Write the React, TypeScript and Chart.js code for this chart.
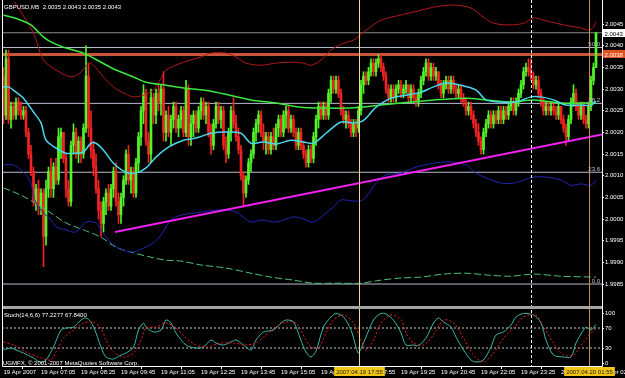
import React, { useEffect, useRef } from 'react';
import { Chart, registerables } from 'chart.js';

Chart.register(...registerables);

const W = 625;
const H = 378;
const BASE = 2.0;
const PIP = 0.0001;
const X_MIN = -0.6;
const X_MAX = 239.4;
const PRICE_MIN = 1.99797;
const PRICE_MAX = 2.00501;

// Candles, values in pips above 2.0000
const OPEN = [
  33, 24, 37, 23, 26, 24, 27, 25, 24, 25,
  20, 15, 11, 4, 7, 3, 6, -4, 7, 11,
  7, 12, 9, 19, 20, 14, 7, 4, 17, 20,
  15, 18, 15, 21, 33, 21, 16, 12, 7, 2,
  -1, 4, 6, 3, 7, 11, 4, 1, 5, 9,
  15, 9, 11, 6, 13, 19, 25, 29, 18, 15,
  28, 24, 29, 27, 30, 20, 24, 20, 23, 26,
  21, 23, 25, 20, 30, 19, 22, 24, 21, 25,
  27, 24, 26, 20, 17, 22, 26, 23, 25, 17,
  15, 20, 25, 22, 19, 16, 10, 6, 9, 13,
  15, 20, 22, 24, 20, 18, 19, 16, 19, 17,
  21, 23, 20, 24, 25, 21, 23, 20, 17, 20,
  17, 15, 13, 16, 14, 19, 23, 26, 24, 26,
  24, 29, 32, 30, 32, 29, 25, 23, 24, 22,
  20, 22, 21, 25, 31, 33, 32, 34, 36, 34,
  36, 37, 35, 33, 30, 28, 30, 28, 30, 31,
  29, 30, 31, 28, 30, 28, 27, 29, 32, 34,
  36, 33, 35, 33, 34, 31, 29, 31, 32, 30,
  32, 30, 29, 30, 28, 27, 25, 26, 24, 22,
  20, 18, 16, 20, 22, 24, 22, 24, 23, 25,
  23, 25, 24, 26, 27, 25, 27, 29, 31, 34,
  35, 34, 33, 31, 32, 29, 27, 25, 26, 25,
  26, 25, 24, 26, 23, 21, 19, 23, 27, 29,
  26, 24, 26, 23, 22, 26, 32, 35,
];
const HIGH = [
  35, 39, 39, 27, 27, 28, 28, 27, 26, 26,
  21, 17, 12, 8, 9, 7, 7, 9, 12, 14,
  13, 14, 21, 21, 20, 15, 9, 18, 22, 21,
  19, 19, 22, 40, 36, 25, 18, 15, 9, 4,
  5, 7, 8, 8, 12, 13, 6, 6, 10, 16,
  17, 12, 12, 14, 20, 26, 31, 30, 20, 30,
  29, 30, 31, 31, 34, 25, 26, 24, 27, 27,
  24, 26, 26, 32, 31, 24, 25, 25, 26, 28,
  28, 27, 27, 22, 23, 27, 27, 26, 26, 19,
  21, 26, 28, 24, 21, 17, 11, 10, 14, 16,
  21, 23, 25, 25, 22, 20, 20, 20, 21, 22,
  24, 24, 25, 26, 26, 24, 24, 21, 21, 21,
  18, 16, 17, 17, 20, 24, 27, 27, 27, 27,
  30, 33, 33, 33, 33, 30, 26, 25, 25, 23,
  23, 23, 26, 32, 34, 34, 35, 37, 37, 37,
  38, 38, 36, 34, 31, 31, 31, 31, 32, 32,
  31, 32, 31, 31, 31, 29, 30, 33, 35, 37,
  37, 36, 36, 35, 34, 32, 32, 33, 33, 33,
  33, 31, 31, 31, 29, 28, 27, 27, 25, 23,
  22, 19, 21, 23, 25, 25, 25, 25, 26, 26,
  26, 26, 27, 28, 28, 28, 30, 32, 35, 36,
  37, 37, 34, 33, 33, 30, 28, 27, 27, 27,
  27, 26, 27, 26, 24, 22, 24, 28, 31, 30,
  27, 27, 27, 24, 27, 33, 36, 43,
];
const LOW = [
  22, 23, 22, 21, 23, 23, 24, 23, 23, 19,
  14, 10, 3, 2, 1, 1, -11, -6, 5, 5,
  5, 8, 8, 14, 13, 5, 3, 3, 15, 14,
  13, 13, 14, 20, 19, 14, 10, 6, 0, -4,
  -3, 1, 2, 2, 5, 3, -1, -1, 3, 8,
  8, 6, 5, 5, 11, 17, 22, 17, 13, 13,
  22, 22, 25, 24, 18, 18, 19, 17, 21, 20,
  19, 21, 19, 19, 17, 17, 19, 20, 20, 23,
  23, 22, 19, 15, 16, 21, 22, 21, 16, 13,
  14, 18, 21, 18, 15, 9, 3, 5, 8, 11,
  14, 18, 20, 19, 16, 15, 15, 15, 16, 16,
  19, 19, 19, 21, 20, 20, 19, 16, 16, 16,
  14, 12, 12, 13, 13, 17, 21, 23, 23, 23,
  23, 27, 29, 29, 28, 24, 22, 21, 21, 19,
  19, 19, 20, 24, 29, 31, 31, 33, 33, 33,
  35, 34, 32, 29, 27, 27, 27, 27, 29, 28,
  28, 29, 27, 27, 27, 26, 26, 28, 31, 33,
  32, 32, 32, 32, 30, 28, 28, 30, 29, 29,
  29, 28, 28, 27, 26, 24, 24, 23, 21, 19,
  17, 15, 15, 19, 21, 21, 21, 22, 22, 22,
  22, 23, 23, 25, 24, 24, 26, 28, 30, 33,
  33, 32, 30, 30, 28, 26, 24, 24, 24, 24,
  24, 23, 23, 22, 20, 17, 18, 22, 26, 25,
  23, 23, 22, 21, 21, 25, 31, 35,
];
const CLOSE = [
  24, 37, 23, 26, 24, 27, 25, 24, 25, 20,
  15, 11, 4, 7, 3, 6, -4, 7, 11, 7,
  12, 9, 19, 20, 14, 7, 4, 17, 20, 15,
  18, 15, 21, 33, 21, 16, 12, 7, 2, -1,
  4, 6, 3, 7, 11, 4, 1, 5, 9, 15,
  9, 11, 6, 13, 19, 25, 29, 18, 15, 28,
  24, 29, 27, 30, 20, 24, 20, 23, 26, 21,
  23, 25, 20, 30, 19, 22, 24, 21, 25, 27,
  24, 26, 20, 17, 22, 26, 23, 25, 17, 15,
  20, 25, 22, 19, 16, 10, 6, 9, 13, 15,
  20, 22, 24, 20, 18, 19, 16, 19, 17, 21,
  23, 20, 24, 25, 21, 23, 20, 17, 20, 17,
  15, 13, 16, 14, 19, 23, 26, 24, 26, 24,
  29, 32, 30, 32, 29, 25, 23, 24, 22, 20,
  22, 21, 25, 31, 33, 32, 34, 36, 34, 36,
  37, 35, 33, 30, 28, 30, 28, 30, 31, 29,
  30, 31, 28, 30, 28, 27, 29, 32, 34, 36,
  33, 35, 33, 34, 31, 29, 31, 32, 30, 32,
  30, 29, 30, 28, 27, 25, 26, 24, 22, 20,
  18, 16, 20, 22, 24, 22, 24, 23, 25, 23,
  25, 24, 26, 27, 25, 27, 29, 31, 34, 35,
  34, 33, 31, 32, 29, 27, 25, 26, 25, 26,
  25, 24, 26, 23, 21, 19, 23, 27, 29, 26,
  24, 26, 23, 22, 26, 32, 35, 43,
];

// Indicator lines: [bar index, pips above 2.0000]
const MA_FAST: [number, number][] = [
  [0, 30.5], [2, 30.5], [5, 29.3], [8, 27.9], [12, 24.7], [15, 22.2], [17, 18.2], [21, 16.4],
  [25, 15.2], [29, 15.2], [32, 15.5], [35, 17.5], [37, 17.5], [40, 15.9], [44, 12.9], [49, 10.8],
  [53, 10.6], [57, 11.8], [61, 14.3], [66, 16.6], [72, 18.2], [77, 18.7], [83, 19.8], [89, 20.1],
  [95, 19.8], [99, 17.5], [104, 17.8], [109, 17.3], [115, 18.2], [120, 17.8], [124, 17.5], [129, 19.8],
  [135, 22.4], [140, 22.2], [144, 22.8], [149, 25.8], [155, 27.9], [161, 28.6], [167, 29.3], [172, 30.5],
  [177, 31.4], [183, 30.9], [189, 29.8], [193, 27.5], [199, 27], [205, 27], [211, 28.2], [215, 28.2],
  [220, 27.5], [225, 26.3], [231, 26.3], [235, 26.3], [237, 27.2],
];
const MA_SLOW: [number, number][] = [
  [0, 47.1], [7, 45.9], [11, 44.8], [16, 42], [20, 40.6], [25, 39.5], [32, 38.3], [39, 36.2],
  [45, 34.4], [52, 32.8], [57, 31.6], [65, 30.9], [73, 30.2], [83, 29.5], [99, 27.5], [109, 26.8],
  [119, 25.8], [135, 25.6], [143, 25.8], [151, 26.3], [159, 26.8], [172, 27.5], [185, 27.9], [193, 27.5],
  [203, 27], [212, 27.5], [223, 26.8], [237, 26.8],
];
const BAND_UP: [number, number][] = [
  [0, 54], [7, 47.8], [12, 42.9], [16, 36.7], [21, 34.4], [27, 32.8], [31, 33.9], [34, 36],
  [36, 35.5], [40, 32.8], [44, 30.5], [48, 29.1], [52, 28.2], [56, 28.6], [60, 29.8], [63, 32.5],
  [65, 34.4], [72, 36.2], [79, 37.4], [83, 38.3], [89, 38.3], [93, 37.4], [97, 36], [103, 35.5],
  [109, 36], [115, 36.2], [120, 36], [123, 35.5], [127, 36.7], [131, 39], [136, 40.6], [140, 41.3],
  [145, 43.6], [151, 45.9], [159, 47.1], [167, 48.2], [172, 48.9], [180, 49.4], [187, 48.7], [192, 46.6],
  [196, 45.2], [203, 44.8], [208, 45.2], [212, 46.4], [216, 45.9], [221, 45.2], [227, 44.5], [231, 44.1],
  [234, 43.6], [236, 44.3], [237, 45.5],
];
const BAND_DN: [number, number][] = [
  [0, 12.5], [4, 12.5], [8, 10.8], [11, 8.3], [12, 5.1], [14, 2.8], [16, 1.4], [19, -0.2],
  [21, -1.8], [25, -2.5], [29, -3], [33, -0.7], [37, -0.9], [39, -2.5], [43, -5.5], [48, -7.2],
  [52, -7.6], [56, -6.7], [60, -5.5], [63, -3.7], [65, -1.8], [67, -0.2], [71, 0.9], [79, 1.6],
  [87, 2.1], [93, 1.6], [99, -0.7], [103, -0.2], [109, -0.7], [116, 0.5], [120, 0], [124, -0.7],
  [128, 0.9], [132, 2.8], [135, 4.4], [139, 4.2], [143, 4.2], [145, 5.1], [149, 8.3], [153, 10.2],
  [159, 10.6], [164, 11.8], [172, 12.9], [179, 13.2], [185, 12.5], [189, 10.6], [193, 9.5], [199, 8.3],
  [204, 8.3], [208, 9], [212, 9.7], [217, 9.7], [223, 9], [227, 7.8], [231, 8.1], [235, 7.8], [237, 9],
];
const MA_LONG: [number, number][] = [
  [0, 7.2], [7, 5.5], [12, 3.9], [19, 1.4], [25, -0.9], [32, -2.5], [39, -4.2], [45, -6.5],
  [52, -7.8], [59, -8.8], [65, -9.5], [71, -9.7], [79, -10.6], [89, -11.3], [99, -12.5], [107, -13.4],
  [116, -14.1], [124, -14.8], [133, -14.8], [143, -14.8], [151, -14.1], [159, -13.6], [167, -13.4], [176, -12.7],
  [185, -12.5], [193, -12.9], [203, -13.2], [212, -12.7], [223, -13.2], [237, -13.4],
];
const TRENDLINE: [number, number][] = [[44.6, -3.0], [239.4, 19.5]];

// Stochastic (14,6,6): [bar index, value]
const STOCH_MAIN: [number, number][] = [
  [0, 26], [3, 30], [5, 26], [8, 20], [12, 10], [15, 1], [17, 6], [20, 32], [23, 66], [25, 70],
  [28, 72], [31, 86], [33, 90], [35, 82], [37, 60], [39, 32], [41, 12], [44, 8], [47, 16], [49, 20],
  [52, 32], [54, 66], [56, 80], [57, 72], [60, 62], [63, 66], [65, 86], [67, 80], [69, 60], [73, 36],
  [77, 30], [80, 32], [83, 46], [85, 40], [88, 36], [91, 42], [93, 46], [96, 36], [99, 26], [101, 46],
  [104, 62], [108, 66], [111, 80], [113, 86], [116, 82], [119, 45], [121, 22], [123, 12], [125, 24], [128, 72],
  [131, 92], [133, 99], [136, 92], [139, 66], [141, 32], [142, 20], [145, 52], [148, 86], [151, 99], [153, 98],
  [156, 86], [159, 60], [161, 36], [164, 36], [166, 35], [169, 50], [172, 80], [174, 90], [176, 82], [179, 72],
  [181, 52], [184, 26], [187, 6], [189, 2], [192, 6], [195, 32], [197, 56], [200, 62], [203, 76], [205, 92],
  [208, 99], [212, 96], [215, 80], [217, 46], [220, 16], [224, 12], [227, 12], [229, 40], [232, 66], [233, 72],
  [235, 66], [237, 77.23],
];
const STOCH_SIGNAL: [number, number][] = [
  [0, 42], [4, 36], [9, 22], [15, 10], [19, 6], [21, 22], [24, 50], [28, 66], [32, 80], [36, 82],
  [39, 70], [41, 46], [44, 22], [48, 12], [52, 20], [55, 46], [57, 70], [61, 72], [65, 80], [69, 70],
  [73, 50], [77, 36], [81, 32], [87, 40], [92, 40], [97, 36], [101, 40], [105, 56], [109, 72], [113, 82],
  [117, 80], [121, 46], [123, 32], [126, 30], [129, 60], [132, 86], [136, 96], [140, 80], [143, 46], [145, 26],
  [148, 46], [151, 80], [155, 96], [159, 86], [161, 60], [164, 40], [168, 36], [172, 56], [176, 86], [180, 80],
  [184, 50], [188, 16], [192, 2], [196, 20], [200, 50], [204, 70], [208, 92], [213, 96], [216, 72], [220, 40],
  [224, 16], [228, 16], [232, 42], [236, 66], [237, 67.84],
];
const STOCH_LAST = [77.2277, 67.84];
const STOCH_LEVELS = [70, 30];

// Horizontal objects (prices)
const BID_PRICE = 2.0043;
const HLINE_PRICE = 2.0038;
const FIB_PRICES = [1.9985, 2.00108, 2.00267, 2.00396];
const FIB_LABELS = ['0.0', '23.6', '38.2', '50.0'];

// Vertical objects (bar index)
const VLINE_BARS = [142, 211, 234];
const VLINE_LABELS = ['2007.04.19 17:55', '', '2007.04.20 01:55'];

// Axes
const PRICE_TICKS = [2.0045, 2.004, 2.0035, 2.003, 2.0025, 2.002, 2.0015, 2.001, 2.0005, 2.0, 1.9995, 1.999, 1.9985];
const STOCH_TICKS = [100, 70, 30, 0];
const TIME_TICK_BARS = [0, 15, 31, 47, 63, 79, 95, 111, 127, 143, 159, 175, 191, 207, 223, 239];
const TIME_TICK_LABELS = [
  '19 Apr 2007', '19 Apr 07:05', '19 Apr 08:25', '19 Apr 09:45', '19 Apr 11:05', '19 Apr 12:25',
  '19 Apr 13:45', '19 Apr 15:05', '19 Apr 16:25', '19 Apr 17:55', '19 Apr 19:25', '19 Apr 20:45',
  '19 Apr 22:05', '19 Apr 23:25', '20 Apr 00:45', '20 Apr 02:05',
];
const SYMBOL = 'GBPUSD,M5';
const COPYRIGHT = 'UGMFX, \u00A9 2001-2007 MetaQuotes Software Corp.';

const FONT_FAMILY = '"Liberation Sans", Arial, sans-serif';
const FONT = `6px ${FONT_FAMILY}`;
const BULL = '#52f52a';
const BEAR = '#f02424';

const price = (v: number) => BASE + v * PIP;
const fmt = (v: number) => price(v).toFixed(4);
const toPts = (arr: [number, number][], f: (v: number) => number) => arr.map(([i, v]) => ({ x: i, y: f(v) }));

function hline(value: number, axis: string, color: string, width: number, dash: number[], order: number) {
  return {
    type: 'line',
    data: [{ x: X_MIN, y: value }, { x: X_MAX, y: value }],
    borderColor: color,
    borderWidth: width,
    borderDash: dash,
    pointRadius: 0,
    fill: false,
    yAxisID: axis,
    order,
  };
}

function lineSet(data: any[], axis: string, color: string, width: number, dash: number[], order: number, tension = 0.3) {
  return {
    type: 'line',
    data,
    borderColor: color,
    borderWidth: width,
    borderDash: dash,
    pointRadius: 0,
    fill: false,
    tension,
    yAxisID: axis,
    order,
  };
}

const overlay = {
  id: 'mt4overlay',
  beforeDraw(chart: any) {
    const ctx = chart.ctx;
    ctx.save();
    ctx.fillStyle = '#000';
    ctx.fillRect(0, 0, chart.width, chart.height);
    ctx.restore();
  },
  afterDatasetsDraw(chart: any) {
    const { ctx, chartArea: a, scales } = chart;
    const xs = scales.x;
    const ys = scales.y;
    ctx.save();
    const vColors = ['#f2d68c', '#ffffff', '#d08a48'];
    const vDash = [[], [3, 2], []];
    VLINE_BARS.forEach((b, k) => {
      const px = Math.round(xs.getPixelForValue(b)) + 0.5;
      ctx.beginPath();
      ctx.strokeStyle = vColors[k];
      ctx.lineWidth = 1;
      ctx.setLineDash(vDash[k]);
      ctx.moveTo(px, 0);
      ctx.lineTo(px, a.bottom);
      ctx.stroke();
    });
    ctx.setLineDash([]);
    // separator band between price and stochastic windows
    const sep = Math.round(ys.bottom);
    ctx.fillStyle = '#a4a4a4';
    ctx.fillRect(a.left, sep - 1, a.right - a.left, 3);
    // frame
    ctx.strokeStyle = '#ffffff';
    ctx.lineWidth = 1;
    ctx.beginPath();
    ctx.moveTo(a.left + 0.5, 0);
    ctx.lineTo(a.left + 0.5, a.bottom + 0.5);
    ctx.lineTo(a.right + 0.5, a.bottom + 0.5);
    ctx.lineTo(a.right + 0.5, 0);
    ctx.stroke();
    ctx.restore();
  },
  afterDraw(chart: any) {
    const { ctx, chartArea: a, scales } = chart;
    const xs = scales.x;
    const ys = scales.y;
    const ys2 = scales.y2;
    const n = CLOSE.length - 1;
    ctx.save();
    ctx.font = FONT;
    ctx.textBaseline = 'alphabetic';
    ctx.textAlign = 'left';
    ctx.fillStyle = '#ffffff';
    ctx.fillText(`${SYMBOL}  ${fmt(OPEN[n])} ${fmt(HIGH[n])} ${fmt(LOW[n])} ${fmt(CLOSE[n])}`, 4, 9);
    ctx.fillText(`Stoch(14,6,6) ${STOCH_LAST[0].toFixed(4)} ${STOCH_LAST[1].toFixed(4)}`, 4, ys2.top + 10);
    ctx.fillText(COPYRIGHT, 3, a.bottom - 1);
    // fib labels
    ctx.textAlign = 'right';
    ctx.fillStyle = '#b8c2d0';
    FIB_PRICES.forEach((p, k) => {
      ctx.fillText(FIB_LABELS[k], a.right - 2, ys.getPixelForValue(p) - 1.5);
    });
    // price boxes on the right axis
    ctx.textAlign = 'left';
    const boxes = [
      { p: BID_PRICE, bg: '#ffffff', fg: '#000000' },
      { p: HLINE_PRICE, bg: '#e0521e', fg: '#ffffff' },
    ];
    boxes.forEach((b) => {
      const py = Math.round(ys.getPixelForValue(b.p));
      ctx.fillStyle = b.bg;
      ctx.fillRect(a.right + 1, py - 4, W - a.right - 1, 8);
      ctx.fillStyle = b.fg;
      ctx.fillText(b.p.toFixed(4), a.right + 2.5, py + 2.5);
    });
    // time labels of vertical lines
    ctx.textAlign = 'center';
    VLINE_BARS.forEach((bar, k) => {
      const label = VLINE_LABELS[k];
      if (!label) return;
      const px = Math.round(xs.getPixelForValue(bar)) + 0.5;
      const tw = ctx.measureText(label).width;
      ctx.fillStyle = '#f2c414';
      ctx.fillRect(px - tw / 2 - 2, a.bottom + 1, tw + 4, 9);
      ctx.fillStyle = '#1a1a1a';
      ctx.fillText(label, px, a.bottom + 8);
    });
    ctx.restore();
  },
};

export default function App() {
  const ref = useRef<HTMLCanvasElement | null>(null);

  useEffect(() => {
    const canvas = ref.current;
    if (!canvas) return;

    const wicks = OPEN.map((_, i) => ({ x: i, y: [price(LOW[i]), price(HIGH[i])] }));
    const bodies = OPEN.map((o, i) => ({ x: i, y: [price(o), price(CLOSE[i])] }));
    const candleColor = (ctx: any) => (CLOSE[ctx.dataIndex] >= OPEN[ctx.dataIndex] ? BULL : BEAR);

    const datasets: any[] = [
      hline(BID_PRICE, 'y', '#8a8a8a', 1, [], 20),
      hline(HLINE_PRICE, 'y', '#c8563a', 3, [], 20),
      ...FIB_PRICES.map((p) => hline(p, 'y', '#b4bece', 1, [], 20)),
      {
        type: 'bar',
        data: wicks,
        backgroundColor: candleColor,
        barThickness: 1,
        maxBarThickness: 1,
        grouped: false,
        yAxisID: 'y',
        order: 15,
      },
      {
        type: 'bar',
        data: bodies,
        backgroundColor: candleColor,
        barThickness: 2,
        maxBarThickness: 2,
        minBarLength: 1,
        grouped: false,
        yAxisID: 'y',
        order: 14,
      },
      lineSet(toPts(BAND_UP, price), 'y', '#b31818', 1, [], 10),
      lineSet(toPts(BAND_DN, price), 'y', '#2424b4', 1, [], 10),
      lineSet(toPts(MA_LONG, price), 'y', '#4cbf7a', 1, [7, 3], 10),
      lineSet(toPts(MA_SLOW, price), 'y', '#3ee83e', 1.5, [], 9),
      lineSet(toPts(MA_FAST, price), 'y', '#48d8ea', 1.5, [], 8),
      lineSet(toPts(TRENDLINE, price), 'y', '#f020f0', 2, [], 7, 0),
      ...STOCH_LEVELS.map((v) => hline(v, 'y2', '#c8c8c8', 1, [2, 2], 20)),
      lineSet(toPts(STOCH_MAIN, (v) => v), 'y2', '#3cb8a8', 1, [], 6),
      lineSet(toPts(STOCH_SIGNAL, (v) => v), 'y2', '#e82020', 1, [2, 2], 5),
    ];

    const tickFont = { size: 6, family: FONT_FAMILY };

    const chart = new Chart(canvas, {
      type: 'bar',
      data: { datasets },
      options: {
        animation: false,
        responsive: false,
        devicePixelRatio: 1,
        layout: { padding: { left: 2, top: 2, right: 0, bottom: 0 } },
        plugins: { legend: { display: false }, tooltip: { enabled: false } },
        events: [],
        scales: {
          x: {
            type: 'linear',
            position: 'bottom',
            min: X_MIN,
            max: X_MAX,
            offset: false,
            afterBuildTicks: (s: any) => {
              s.ticks = TIME_TICK_BARS.map((v) => ({ value: v }));
            },
            afterFit: (s: any) => {
              s.height = 12;
              s.paddingLeft = 0;
              s.paddingRight = 0;
            },
            ticks: {
              autoSkip: false,
              maxRotation: 0,
              minRotation: 0,
              align: 'start',
              padding: 0,
              color: '#ffffff',
              font: tickFont,
              callback: (_v: any, i: number) => TIME_TICK_LABELS[i],
            },
            grid: { drawOnChartArea: false, drawTicks: true, tickLength: 3, color: '#ffffff' },
            border: { display: false },
          },
          y: {
            type: 'linear',
            position: 'right',
            stack: 'windows',
            stackWeight: 305,
            min: PRICE_MIN,
            max: PRICE_MAX,
            afterBuildTicks: (s: any) => {
              s.ticks = PRICE_TICKS.map((v) => ({ value: v }));
            },
            afterFit: (s: any) => {
              s.width = 23;
              s.paddingTop = 0;
              s.paddingBottom = 0;
            },
            ticks: {
              autoSkip: false,
              padding: 1,
              color: '#ffffff',
              font: tickFont,
              callback: (v: any) => Number(v).toFixed(4),
            },
            grid: { drawOnChartArea: false, drawTicks: true, tickLength: 2, color: '#ffffff' },
            border: { display: false },
          },
          y2: {
            type: 'linear',
            position: 'right',
            stack: 'windows',
            stackWeight: 59,
            min: -6,
            max: 112,
            afterBuildTicks: (s: any) => {
              s.ticks = STOCH_TICKS.map((v) => ({ value: v }));
            },
            afterFit: (s: any) => {
              s.width = 23;
              s.paddingTop = 0;
              s.paddingBottom = 0;
            },
            ticks: {
              autoSkip: false,
              padding: 1,
              color: '#ffffff',
              font: tickFont,
              callback: (v: any) => String(v),
            },
            grid: { drawOnChartArea: false, drawTicks: true, tickLength: 2, color: '#ffffff' },
            border: { display: false },
          },
        },
      } as any,
      plugins: [overlay],
    } as any);

    return () => chart.destroy();
  }, []);

  return (
    <div style={{ position: 'absolute', left: 0, top: 0, width: W, height: H, background: '#000' }}>
      <canvas ref={ref} width={W} height={H} style={{ display: 'block', width: W, height: H }} />
    </div>
  );
}
